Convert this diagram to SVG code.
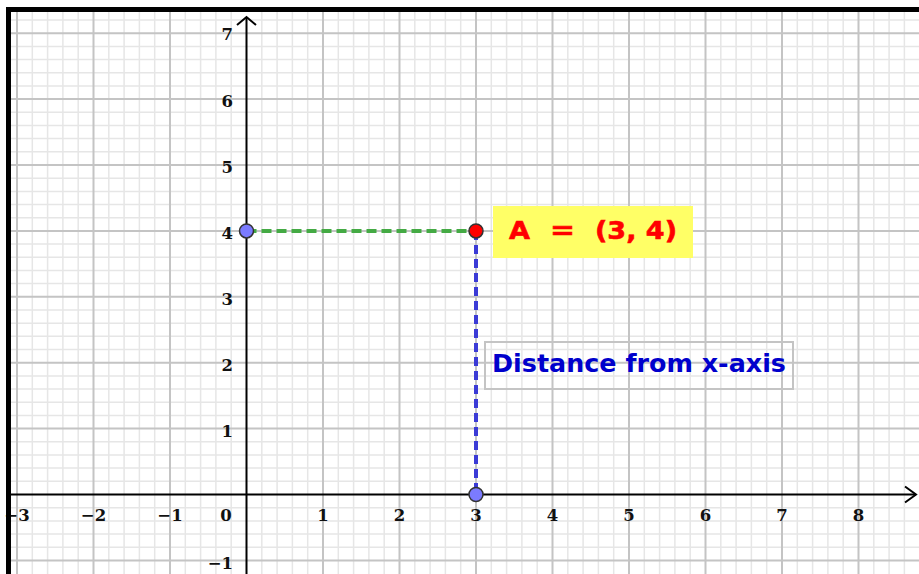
<svg xmlns="http://www.w3.org/2000/svg" width="919" height="574" viewBox="0 0 919 574">
<style>
.minor{stroke:#e6e6e6;stroke-width:1.5;fill:none}
.major{stroke:#c4c4c4;stroke-width:2;fill:none}
.axis{stroke:#000;stroke-width:2;fill:none}
.num{font-family:"DejaVu Serif","Liberation Serif",serif;font-weight:bold;font-size:16.5px;fill:#111}
.xn{text-anchor:middle}
.yn{text-anchor:end}
.big{font-family:"DejaVu Sans","Liberation Sans",sans-serif;font-weight:bold}
</style>
<rect x="0" y="0" width="919" height="574" fill="#fff"/>
<g id="grid">
<path class="minor" d="M32.3 10V574M47.6 10V574M62.9 10V574M78.2 10V574M108.8 10V574M124.1 10V574M139.4 10V574M154.7 10V574M185.3 10V574M200.6 10V574M215.9 10V574M231.2 10V574M261.8 10V574M277.1 10V574M292.4 10V574M307.7 10V574M338.3 10V574M353.6 10V574M368.9 10V574M384.2 10V574M414.8 10V574M430.1 10V574M445.4 10V574M460.7 10V574M491.3 10V574M506.6 10V574M521.9 10V574M537.2 10V574M567.8 10V574M583.1 10V574M598.4 10V574M613.7 10V574M644.3 10V574M659.6 10V574M674.9 10V574M690.2 10V574M720.8 10V574M736.1 10V574M751.4 10V574M766.7 10V574M797.3 10V574M812.6 10V574M827.9 10V574M843.2 10V574M873.8 10V574M889.1 10V574M904.4 10V574"/>
<path class="minor" d="M9 20H919M9 46.4H919M9 59.6H919M9 72.7H919M9 85.9H919M9 112.3H919M9 125.5H919M9 138.6H919M9 151.8H919M9 178.2H919M9 191.4H919M9 204.5H919M9 217.7H919M9 244.1H919M9 257.3H919M9 270.4H919M9 283.6H919M9 310H919M9 323.2H919M9 336.3H919M9 349.5H919M9 375.9H919M9 389.1H919M9 402.2H919M9 415.4H919M9 441.8H919M9 455H919M9 468.1H919M9 481.3H919M9 507.7H919M9 520.9H919M9 534H919M9 547.2H919"/>
<path class="major" d="M17 10V574M93.5 10V574M170 10V574M323 10V574M399.5 10V574M476 10V574M552.5 10V574M629 10V574M705.5 10V574M782 10V574M858.5 10V574"/>
<path class="major" d="M9 33.2H919M9 99.1H919M9 165H919M9 230.9H919M9 296.8H919M9 362.7H919M9 428.6H919M9 560.4H919"/>
</g>
<g id="axes">
<path class="axis" d="M246.5 17V574"/>
<path class="axis" d="M237 25L246.5 17L256 25"/>
<path class="axis" d="M9 494.5H916"/>
<path class="axis" d="M905 486.5L916 494.5L905 502.5"/>
</g>
<g id="x-labels">
<text class="num xn" x="17" y="521">−3</text>
<text class="num xn" x="93.5" y="521">−2</text>
<text class="num xn" x="170" y="521">−1</text>
<text class="num xn" x="226" y="521">0</text>
<text class="num xn" x="323" y="521">1</text>
<text class="num xn" x="399.5" y="521">2</text>
<text class="num xn" x="476" y="521">3</text>
<text class="num xn" x="552.5" y="521">4</text>
<text class="num xn" x="629" y="521">5</text>
<text class="num xn" x="705.5" y="521">6</text>
<text class="num xn" x="782" y="521">7</text>
<text class="num xn" x="858.5" y="521">8</text>
</g>
<g id="y-labels">
<text class="num yn" x="233" y="40">7</text>
<text class="num yn" x="233" y="107">6</text>
<text class="num yn" x="233" y="173">5</text>
<text class="num yn" x="233" y="239">4</text>
<text class="num yn" x="233" y="305">3</text>
<text class="num yn" x="233" y="371">2</text>
<text class="num yn" x="233" y="437">1</text>
<text class="num yn" x="233" y="569">−1</text>
</g>
<g id="connectors">
<path d="M246.5 230.9H476" stroke="#44aa44" stroke-width="4" stroke-dasharray="10,5" fill="none"/>
<path d="M476 230.9V494.5" stroke="#3b3bd6" stroke-width="4" stroke-dasharray="9,5" fill="none"/>
</g>
<g id="label-A">
<rect x="493" y="206" width="200" height="52" fill="#ffff66"/>
<text class="big" x="509" y="239" font-size="25" fill="#ff0000" stroke="#ff0000" stroke-width="0.6" textLength="21" lengthAdjust="spacingAndGlyphs">A</text>
<text class="big" x="550" y="239" font-size="25" fill="#ff0000" stroke="#ff0000" stroke-width="0.6" textLength="25" lengthAdjust="spacingAndGlyphs">=</text>
<text class="big" x="595" y="239" font-size="25" fill="#ff0000" stroke="#ff0000" stroke-width="0.6" textLength="82" lengthAdjust="spacingAndGlyphs">(3, 4)</text>
</g>
<g id="label-distance">
<rect x="485" y="342" width="308" height="47" fill="none" stroke="#c4c4c4" stroke-width="2"/>
<text class="big" x="492" y="372" font-size="25" fill="#0000cc" textLength="294" lengthAdjust="spacingAndGlyphs">Distance from x-axis</text>
</g>
<g id="point-y">
<circle cx="246.5" cy="230.9" r="7" fill="#7b7bff" stroke="#333" stroke-width="1.5"/>
</g>
<g id="point-x">
<circle cx="476" cy="494.5" r="7" fill="#7b7bff" stroke="#333" stroke-width="1.5"/>
</g>
<g id="point-A">
<circle cx="476" cy="230.9" r="7" fill="#ff0000" stroke="#333" stroke-width="1.5"/>
</g>
<g id="frame">
<path d="M8.5 574V9.5H919" fill="none" stroke="#000" stroke-width="5"/>
</g>
</svg>
